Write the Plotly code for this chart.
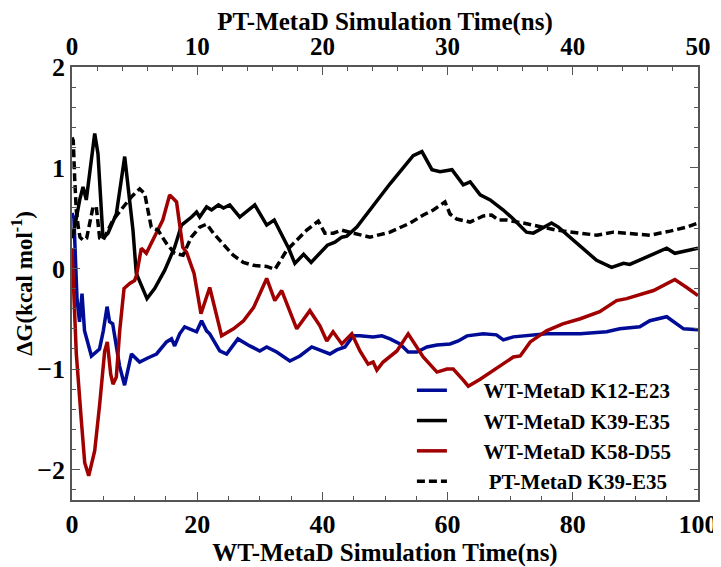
import plotly.graph_objects as go

# WT-MetaD K12-E23 (bottom axis, ns)
k12_x = [0, 0.3, 0.8, 1.2, 1.6, 2.0, 3.1, 4.4, 5.0, 5.6, 6.0, 6.5, 7.6, 8.4, 9.5, 10.8, 12.1, 13.5,
         15.1, 15.9, 16.4, 17.2, 18.0, 19.9, 20.7, 21.5, 22.0, 23.6, 24.7, 26.5, 28.4, 30.0, 31.1,
         32.7, 34.8, 36.4, 38.3, 40.1, 41.2, 42.3, 43.6, 44.9, 46.0, 48.1, 49.5, 50.8, 52.4, 53.7,
         55.1, 56.7, 58.3, 60.4, 61.7, 63.1, 65.7, 67.8, 68.9, 70.5, 75.8, 81.2, 85.4, 87.5, 90.7,
         92.3, 95.0, 97.7, 100]
k12_y = [0.55, 0.5, -0.3, -0.53, -0.25, -0.62, -0.87, -0.8, -0.62, -0.38, -0.53, -0.55, -0.97, -1.16,
         -0.85, -0.93, -0.89, -0.85, -0.73, -0.70, -0.77, -0.65, -0.58, -0.63, -0.52, -0.62, -0.65,
         -0.82, -0.85, -0.70, -0.77, -0.82, -0.78, -0.83, -0.92, -0.87, -0.78, -0.82, -0.85, -0.81,
         -0.78, -0.67, -0.67, -0.68, -0.67, -0.70, -0.75, -0.83, -0.83, -0.78, -0.76, -0.75, -0.72,
         -0.67, -0.65, -0.66, -0.71, -0.68, -0.65, -0.65, -0.63, -0.60, -0.58, -0.52, -0.48, -0.60,
         -0.61]

# WT-MetaD K39-E35 (bottom axis, ns)
k39_x = [0, 0.43, 1.23, 1.76, 2.28, 3.63, 4.15, 4.68, 4.95, 5.75, 7.08, 8.42, 8.95, 9.74, 10.27,
         11.98, 13.2, 14.8, 16.4, 17.5, 19.1, 19.9, 20.4, 21.5, 22.3, 23.4, 24.2, 25.2, 26.8, 29.2,
         31.1, 32.3, 34.6, 35.6, 37.0, 38.2, 40.8, 42.0, 43.1, 43.9, 45.5, 50.8, 54.5, 55.9, 57.5,
         58.8, 60.7, 62.5, 63.6, 65.2, 66.8, 68.9, 70.5, 72.6, 73.7, 76.6, 77.7, 80.6, 83.8, 86.2,
         88.1, 89.1, 91.8, 95.0, 96.3, 100]
k39_y = [0.3, 0.41, 0.68, 0.81, 0.68, 1.34, 1.14, 0.48, 0.30, 0.35, 0.54, 1.11, 0.81, 0.38, -0.05,
         -0.30, -0.20, -0.02, 0.21, 0.43, 0.51, 0.56, 0.51, 0.61, 0.58, 0.63, 0.60, 0.63, 0.51, 0.63,
         0.43, 0.48, 0.20, 0.05, 0.14, 0.06, 0.23, 0.26, 0.31, 0.32, 0.41, 0.84, 1.12, 1.16, 0.98,
         0.96, 0.98, 0.83, 0.86, 0.73, 0.68, 0.58, 0.49, 0.36, 0.35, 0.45, 0.41, 0.25, 0.08, 0.01,
         0.05, 0.04, 0.11, 0.20, 0.15, 0.20]

# WT-MetaD K58-D55 (bottom axis, ns)
k58_x = [0, 0.69, 1.49, 2.03, 2.67, 3.63, 4.42, 5.22, 5.64, 6.18, 6.55, 7.08, 7.62, 8.31, 9.22,
         10.0, 10.3, 11.07, 11.87, 13.47, 14.5, 15.6, 16.7, 17.7, 18.3, 19.5, 20.6, 22.0, 23.9,
         25.8, 27.4, 29.0, 31.1, 32.4, 33.5, 35.9, 38.0, 39.6, 40.7, 41.7, 43.1, 44.7, 46.0, 47.3,
         48.1, 48.7, 49.7, 51.9, 53.7, 56.1, 58.3, 59.9, 60.9, 62.5, 63.3, 65.2, 67.3, 68.9, 70.5,
         71.6, 73.2, 75.8, 78.4, 81.2, 84.3, 87.0, 88.6, 92.9, 96.3, 98.2, 100]
k58_y = [0.2, -0.85, -1.51, -1.93, -2.06, -1.81, -1.35, -0.82, -0.73, -1.05, -1.15, -1.08, -0.62,
         -0.2, -0.15, -0.12, -0.07, 0.20, 0.15, 0.35, 0.48, 0.73, 0.66, 0.21, 0.16, -0.05, -0.45,
         -0.19, -0.67, -0.60, -0.52, -0.39, -0.10, -0.32, -0.22, -0.60, -0.42, -0.57, -0.72, -0.63,
         -0.75, -0.65, -0.82, -0.95, -0.93, -1.01, -0.93, -0.82, -0.65, -0.88, -1.03, -1.0, -1.0,
         -1.11, -1.17, -1.10, -1.01, -0.95, -0.88, -0.87, -0.73, -0.62, -0.55, -0.50, -0.43, -0.32,
         -0.30, -0.22, -0.11, -0.19, -0.27]

# PT-MetaD K39-E35 (top axis, ns)
pt_x = [0, 0.1, 0.22, 0.34, 0.5, 0.64, 0.88, 1.17, 1.68, 1.94, 2.21, 2.48, 3.27, 4.21, 4.74, 5.41,
        5.81, 6.33, 6.87, 7.53, 8.2, 8.87, 9.53, 10.2, 10.76, 11.29, 12.36, 12.88, 13.68, 14.48,
        15.55, 16.21, 17.15, 17.68, 18.75, 19.67, 20.2, 20.87, 21.54, 22.47, 23.8, 25.4, 27.0,
        28.06, 28.86, 29.79, 30.19, 30.73, 31.79, 32.85, 33.52, 34.05, 34.72, 36.05, 36.85, 38.71,
        40.58, 41.91, 43.24, 44.57, 46.17, 47.76, 49.1, 50]
pt_y = [1.3, 1.27, 0.88, 0.58, 0.41, 0.31, 0.28, 0.30, 0.61, 0.61, 0.30, 0.28, 0.48, 0.63, 0.71,
        0.79, 0.74, 0.41, 0.38, 0.25, 0.15, 0.13, 0.31, 0.41, 0.44, 0.35, 0.21, 0.13, 0.06, 0.03,
        0.02, -0.01, 0.18, 0.25, 0.38, 0.47, 0.35, 0.35, 0.38, 0.35, 0.31, 0.36, 0.45, 0.53, 0.58,
        0.66, 0.54, 0.49, 0.46, 0.52, 0.53, 0.48, 0.48, 0.45, 0.43, 0.38, 0.35, 0.33, 0.36, 0.35,
        0.33, 0.37, 0.41, 0.45]

names = ["WT-MetaD K12-E23", "WT-MetaD K39-E35", "WT-MetaD K58-D55", "PT-MetaD K39-E35"]
PAD = "\u00a0" * 6
BLUE = "#000c96"
RED = "#a00000"
BLACK = "#000000"
FONT = "Times New Roman, Liberation Serif, serif"

fig = go.Figure()
fig.add_trace(go.Scatter(x=k12_x, y=k12_y, mode="lines", name=PAD + names[0],
                         line=dict(color=BLUE, width=3.5)))
fig.add_trace(go.Scatter(x=k39_x, y=k39_y, mode="lines", name=PAD + names[1],
                         line=dict(color=BLACK, width=3.5)))
fig.add_trace(go.Scatter(x=k58_x, y=k58_y, mode="lines", name=PAD + names[2],
                         line=dict(color=RED, width=3.5)))
fig.add_trace(go.Scatter(x=pt_x, y=pt_y, mode="lines", name=PAD + "\u00a0" + names[3], xaxis="x2",
                         line=dict(color=BLACK, width=3.5, dash="8px,4px")))

tickfont = dict(family=FONT, size=26, color="black", weight="bold")
toptickfont = dict(family=FONT, size=25, color="black", weight="bold")
titlefont = dict(family=FONT, size=25, color="black", weight="bold")
ytitlefont = dict(family=FONT, size=23, color="black", weight="bold")
axcol = "#555555"

fig.update_layout(
    width=713, height=559,
    margin=dict(l=64, r=23, t=59, b=67, autoexpand=False),
    plot_bgcolor="white", paper_bgcolor="white",
    xaxis=dict(range=[0, 100], tickvals=[0, 20, 40, 60, 80, 100], ticks="inside", ticklen=8,
               tickwidth=1.2, tickcolor=axcol, showline=True, linecolor=axcol, linewidth=1.5,
               showgrid=False, zeroline=False, tickfont=tickfont, automargin=False,
               minor=dict(dtick=5, ticks="inside", ticklen=4, tickcolor=axcol, showgrid=False),
               title=dict(text="WT-MetaD Simulation Time(ns)", font=titlefont, standoff=8)),
    xaxis2=dict(range=[0, 50], tickvals=[0, 10, 20, 30, 40, 50], overlaying="x", side="top",
                ticks="inside", ticklen=8, tickwidth=1.2, tickcolor=axcol, showline=True,
                linecolor=axcol, linewidth=1.5, showgrid=False, zeroline=False,
                tickfont=toptickfont, automargin=True,
                minor=dict(dtick=2, ticks="inside", ticklen=4, tickcolor=axcol, showgrid=False),
                title=dict(text="PT-MetaD Simulation Time(ns)", font=titlefont, standoff=6)),
    yaxis=dict(range=[-2.3, 2], tickvals=[-2, -1, 0, 1, 2], ticks="inside", ticklen=8,
               tickwidth=1.2, tickcolor=axcol, showline=True, linecolor=axcol, linewidth=1.5,
               mirror="ticks", showgrid=False, zeroline=False, tickfont=tickfont, automargin=False,
               minor=dict(dtick=0.2, ticks="inside", ticklen=4, tickcolor=axcol, showgrid=False),
               title=dict(text="ΔG(kcal mol<sup>-1</sup>)", font=ytitlefont, standoff=18)),
    legend=dict(x=0.543, y=0.300, xanchor="left", yanchor="top", bgcolor="rgba(0,0,0,0)",
                font=dict(family=FONT, size=21, color="black", weight="bold"),
                itemwidth=30, tracegroupgap=0),
    showlegend=True,
)

fig.write_html("out.html")
